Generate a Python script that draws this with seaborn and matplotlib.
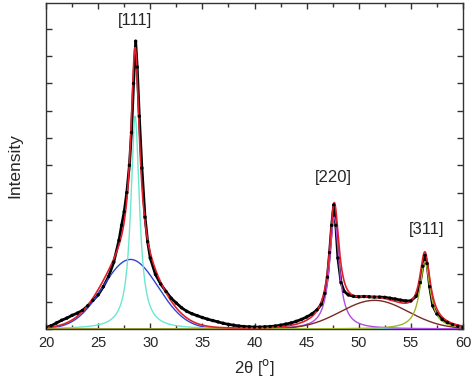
import numpy as np
import pandas as pd
import matplotlib
matplotlib.use("Agg")
import matplotlib.pyplot as plt
import seaborn as sns
from matplotlib.ticker import MultipleLocator

two_theta = [20.0, 20.5, 21.0, 21.5, 22.0, 22.5, 23.0, 23.5, 24.0, 24.5,
             25.0, 25.5, 26.0, 26.5, 27.0, 27.25, 27.5, 27.75, 28.0, 28.2,
             28.4, 28.6, 28.75, 28.95, 29.2, 29.5, 29.75, 30.0, 30.5, 31.0,
             31.5, 32.0, 32.5, 33.0, 33.5, 34.0, 34.5, 35.0, 35.5, 36.0,
             36.5, 37.0, 37.5, 38.0, 38.5, 39.0, 39.5, 40.0, 40.5, 41.0,
             41.5, 42.0, 42.5, 43.0, 43.5, 44.0, 44.5, 45.0, 45.5, 46.0,
             46.4, 46.75, 47.0, 47.2, 47.4, 47.6, 47.8, 48.0, 48.3, 48.6,
             49.0, 49.5, 50.0, 50.5, 51.0, 51.5, 52.0, 52.5, 53.0, 53.5,
             54.0, 54.5, 55.0, 55.5, 55.9, 56.15, 56.35, 56.55, 56.8, 57.1,
             57.5, 58.0, 58.5, 59.0, 59.5, 60.0]
intensity = [0.06, 0.12, 0.22, 0.32, 0.40, 0.50, 0.58, 0.68, 0.85, 1.05,
             1.25, 1.55, 1.92, 2.45, 3.25, 3.80, 4.30, 5.00, 6.00, 7.20,
             9.00, 10.55, 9.60, 7.80, 5.90, 4.10, 3.20, 2.60, 2.00, 1.65,
             1.38, 1.13, 0.95, 0.78, 0.65, 0.56, 0.49, 0.42, 0.36, 0.31,
             0.26, 0.21, 0.17, 0.14, 0.11, 0.09, 0.08, 0.07, 0.07, 0.08,
             0.09, 0.11, 0.14, 0.18, 0.22, 0.28, 0.35, 0.44, 0.55, 0.70,
             0.90, 1.30, 1.90, 2.80, 3.80, 4.55, 3.80, 2.60, 1.70, 1.38,
             1.25, 1.20, 1.18, 1.19, 1.18, 1.17, 1.17, 1.16, 1.13, 1.10,
             1.06, 1.03, 1.03, 1.20, 1.70, 2.30, 2.70, 2.40, 1.55, 0.85,
             0.55, 0.35, 0.24, 0.16, 0.10, 0.06]

# fitted components (center, height, width, profile)
peak_centers = [28.1, 28.55, 47.65, 51.5, 56.35]
peak_heights = [2.55, 7.8, 4.1, 1.05, 2.47]
peak_widths = [2.65, 0.5, 0.55, 3.24, 0.6]
peak_shapes = ["gauss", "lorentz", "lorentz", "gauss", "lorentz"]
peak_colors = ["#2f45d2", "#6ee6cf", "#b24be6", "#7a2a24", "#9fb52a"]

peak_labels = ["[111]", "[220]", "[311]"]
label_x = [28.55, 47.6, 56.5]
label_y = [11.3, 5.57, 3.63]

fit_x = np.linspace(20, 60, 1601)


def profile(x, c, h, w, kind):
    if kind == "gauss":
        return h * np.exp(-(x - c) ** 2 / (2 * w ** 2))
    return h / (1 + ((x - c) / w) ** 2)


sns.set_style("ticks")
plt.rcParams["font.family"] = ["Liberation Sans", "DejaVu Sans"]

fig = plt.figure(figsize=(4.74, 3.79), dpi=100)
ax = fig.add_axes([46 / 474, 50 / 379, 417 / 474, 326 / 379])

data = pd.DataFrame({"x": two_theta, "y": intensity})
sns.lineplot(data=data, x="x", y="y", color="black", lw=2.0, ax=ax, zorder=2)

total = np.zeros_like(fit_x)
for c, h, w, kind, col in zip(peak_centers, peak_heights, peak_widths,
                              peak_shapes, peak_colors):
    comp = profile(fit_x, c, h, w, kind)
    total += comp
    sns.lineplot(x=fit_x, y=comp, color=col, lw=1.0, ax=ax, zorder=3)

sns.lineplot(x=fit_x, y=total, color="#e0202c", lw=1.2, ax=ax, zorder=4)
sns.scatterplot(data=data, x="x", y="y", color="black", s=6,
                edgecolor="none", ax=ax, zorder=5)

for lab, lx, ly in zip(peak_labels, label_x, label_y):
    ax.text(lx, ly, lab, ha="center", va="center", fontsize=12)

ax.set_xlim(20, 60)
ax.set_ylim(0, 11.95)
ax.xaxis.set_major_locator(MultipleLocator(5))
ax.xaxis.set_minor_locator(MultipleLocator(2.5))
ax.yaxis.set_major_locator(MultipleLocator(1))
ax.set_yticklabels([])
ax.tick_params(which="both", direction="in", top=True, right=True,
               width=1.0, color="#333333", labelsize=10.5, pad=5)
ax.tick_params(which="major", length=4)
ax.tick_params(which="minor", length=3)
for s in ax.spines.values():
    s.set_linewidth(1.0)
    s.set_color("#333333")

ax.set_xlabel("2θ [$^{\\mathrm{o}}$]", fontsize=12, labelpad=5)
ax.set_ylabel("Intensity", fontsize=12.5, labelpad=12)

fig.savefig("out.png", dpi=100)
